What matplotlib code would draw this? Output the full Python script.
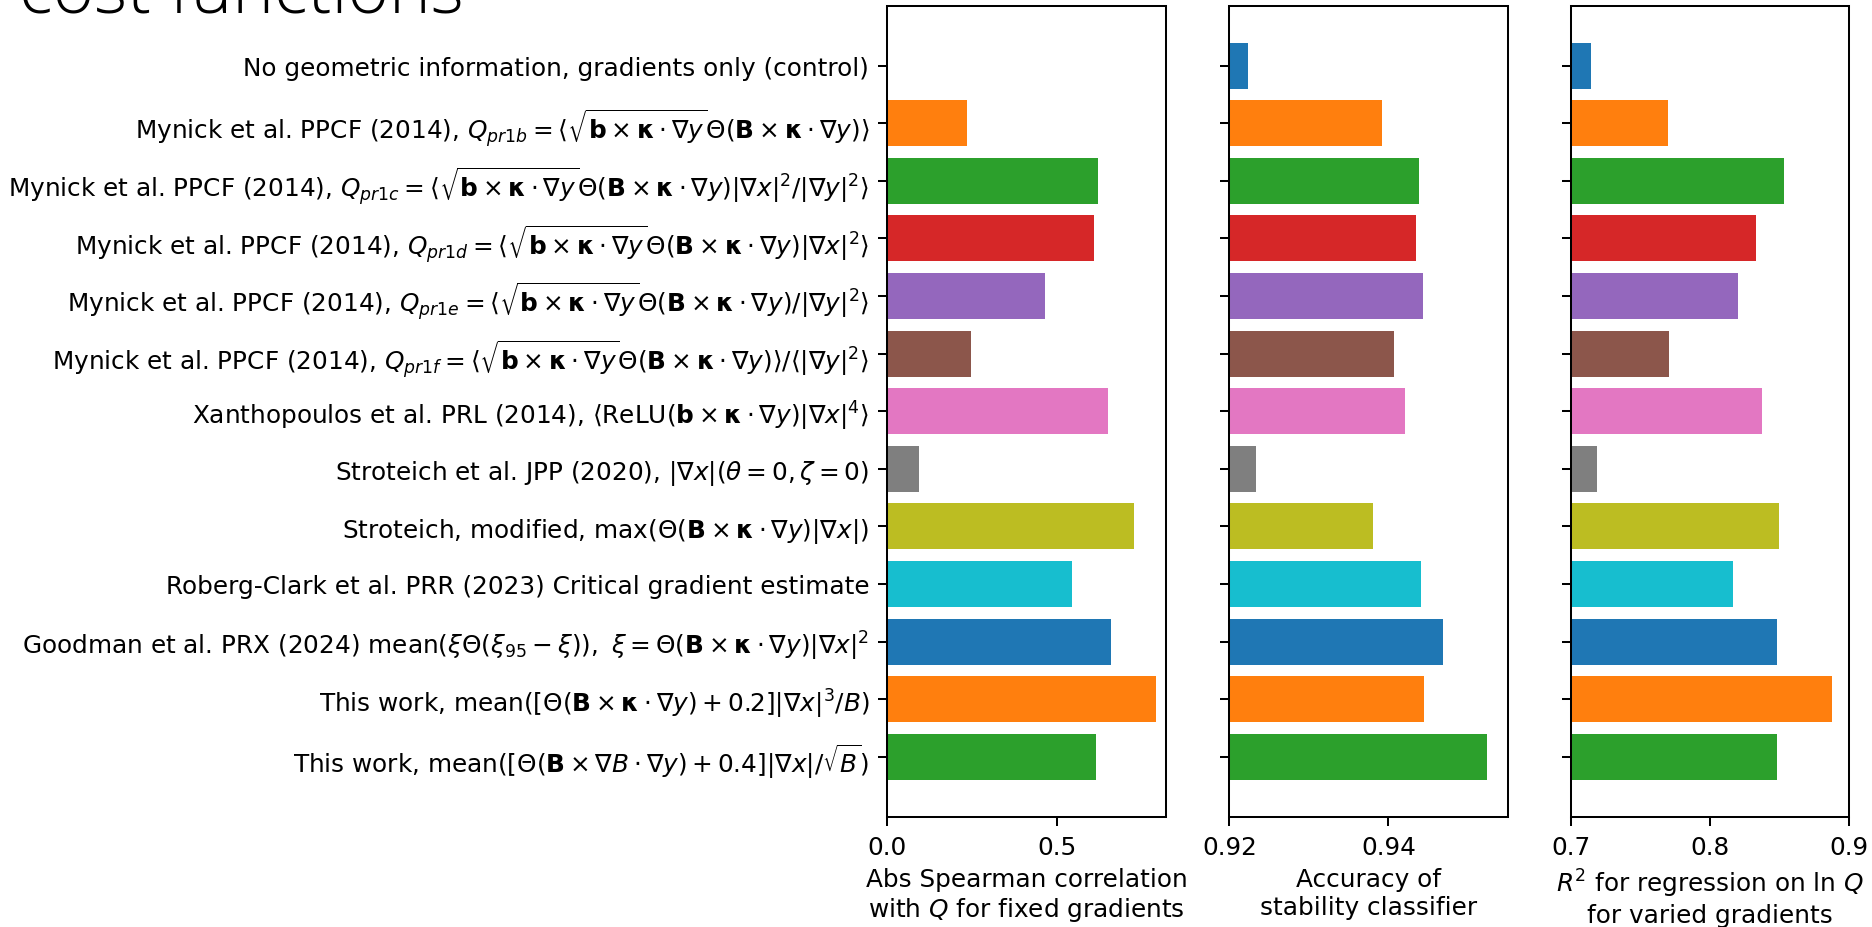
import numpy as np
import matplotlib
matplotlib.use("Agg")
import matplotlib.pyplot as plt

# etiquetas de cada funcion de coste (de arriba a abajo)
kb = r"\mathbf{b}\times\mathbf{\kappa}\cdot\nabla y"
KB = r"\mathbf{B}\times\mathbf{\kappa}\cdot\nabla y"
labels = [
    "No geometric information, gradients only (control)",
    r"Mynick et al. PPCF (2014), $Q_{pr1b} = \langle\sqrt{" + kb + r"}\Theta(" + KB + r")\rangle$",
    r"Mynick et al. PPCF (2014), $Q_{pr1c} = \langle\sqrt{" + kb + r"}\Theta(" + KB + r")|\nabla x|^2/|\nabla y|^2\rangle$",
    r"Mynick et al. PPCF (2014), $Q_{pr1d} = \langle\sqrt{" + kb + r"}\Theta(" + KB + r")|\nabla x|^2\rangle$",
    r"Mynick et al. PPCF (2014), $Q_{pr1e} = \langle\sqrt{" + kb + r"}\Theta(" + KB + r")/|\nabla y|^2\rangle$",
    r"Mynick et al. PPCF (2014), $Q_{pr1f} = \langle\sqrt{" + kb + r"}\Theta(" + KB + r")\rangle/\langle|\nabla y|^2\rangle$",
    r"Xanthopoulos et al. PRL (2014), $\langle\mathrm{ReLU}(" + kb + r")|\nabla x|^4\rangle$",
    r"Stroteich et al. JPP (2020), $|\nabla x|(\theta = 0, \zeta = 0)$",
    r"Stroteich, modified, $\max(\Theta(" + KB + r")|\nabla x|)$",
    "Roberg-Clark et al. PRR (2023) Critical gradient estimate",
    r"Goodman et al. PRX (2024) mean$(\xi\Theta(\xi_{95} - \xi)),\ \xi = \Theta(" + KB + r")|\nabla x|^2$",
    r"This work, mean$([\Theta(" + KB + r") + 0.2]|\nabla x|^3/B)$",
    r"This work, mean$([\Theta(\mathbf{B}\times\nabla B\cdot\nabla y) + 0.4]|\nabla x|/\sqrt{B})$",
]

# valores
spearman = [0.0, 0.235, 0.621, 0.609, 0.465, 0.247, 0.650, 0.093, 0.727, 0.544, 0.659, 0.792, 0.615]
accuracy = [0.9223, 0.9392, 0.9439, 0.9435, 0.9444, 0.9407, 0.9421, 0.9234, 0.9381, 0.9441, 0.9469, 0.9445, 0.9524]
r2 = [0.7143, 0.7697, 0.8531, 0.8328, 0.8198, 0.7704, 0.8372, 0.7187, 0.8493, 0.8163, 0.8480, 0.8873, 0.8480]

xlabels = [
    "Abs Spearman correlation\nwith $Q$ for fixed gradients",
    "Accuracy of\nstability classifier",
    "$R^2$ for regression on $\\ln\\,Q$\nfor varied gradients",
]
xlims = [(0, 0.821), (0.92, 0.955), (0.7, 0.9)]
xticks = [[0.0, 0.5], [0.92, 0.94], [0.7, 0.8, 0.9]]
xticklabels = [["0.0", "0.5"], ["0.92", "0.94"], ["0.7", "0.8", "0.9"]]

plt.rcParams["font.size"] = 17.8
plt.rcParams["axes.linewidth"] = 1.45

fig = plt.figure(figsize=(18.72, 9.28), dpi=100)
lefts = [0.4740, 0.6567, 0.8392]
colores = [f"C{i % 10}" for i in range(len(labels))]
y = np.arange(len(labels))

for i, datos in enumerate([spearman, accuracy, r2]):
    ax = fig.add_axes([lefts[i], 0.1189, 0.1487, 0.8739])
    ax.barh(y, datos, height=0.8, color=colores)
    ax.set_xlim(*xlims[i])
    ax.set_ylim(len(labels) - 1 + 1.04, -1.04)
    ax.set_xticks(xticks[i], xticklabels[i])
    ax.set_yticks(y)
    if i == 0:
        ax.set_yticklabels(labels)
    else:
        ax.set_yticklabels([])
    ax.tick_params(length=6.5, width=1.45, pad=6.5)
    ax.set_xlabel(xlabels[i], labelpad=6)

# titulo de la diapositiva, cortado arriba
fig.text(0.010, 0.986, "cost functions", fontsize=51, family=["Open Sans", "DejaVu Sans"],
         fontweight="light", va="baseline", ha="left")

fig.savefig("out.png", dpi=100)
